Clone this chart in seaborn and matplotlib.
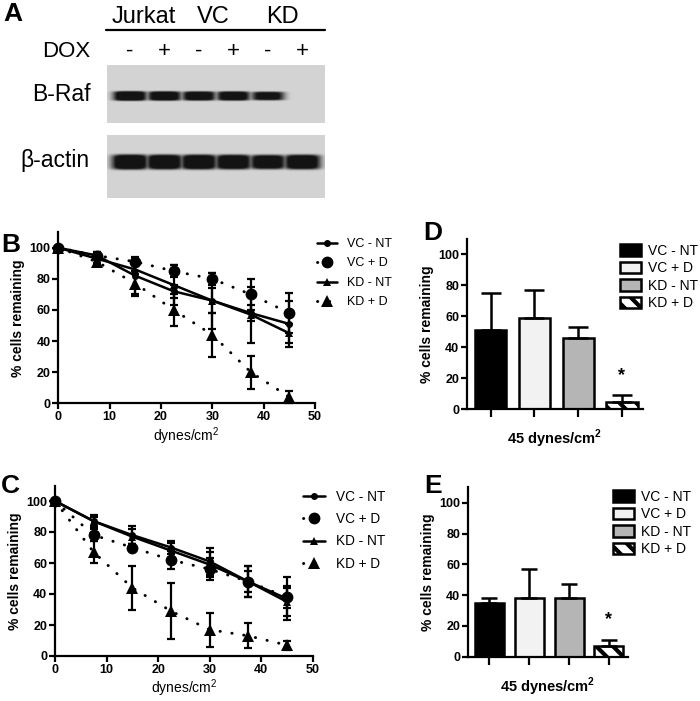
import numpy as np
import matplotlib
matplotlib.use('Agg')
import matplotlib.pyplot as plt
import seaborn as sns

# ---------------- data ----------------
dox_signs = ['-', '+', '-', '+', '-', '+']
groups = ['Jurkat', 'VC', 'KD']
braf_band = [1.0, 0.95, 0.92, 0.92, 0.80, 0.0]
actin_band = [1.0, 0.97, 0.97, 0.95, 0.90, 0.95]

dynes = [0, 7.5, 15, 22.5, 30, 37.5, 45]
series = ['VC - NT', 'VC + D', 'KD - NT', 'KD + D']

# panel B
b_vc_nt = [100, 95, 82, 72, 66, 58, 51]
b_vc_nt_err = [0, 2, 12, 4, 8, 5, 15]
b_vc_d = [100, 95, 91, 85, 80, 70, 58]
b_vc_d_err = [0, 2, 2, 4, 4, 10, 13]
b_kd_nt = [100, 93, 86, 76, 66, 57, 45]
b_kd_nt_err = [0, 3, 3, 13, 18, 18, 6]
b_kd_d = [100, 91, 77, 60, 44, 20, 4]
b_kd_d_err = [0, 3, 8, 10, 14, 10.5, 4]

# panel C
c_vc_nt = [100, 87, 78, 70, 61, 48, 37]
c_vc_nt_err = [0, 4, 6, 4, 9, 10, 14]
c_vc_d = [100, 78, 70, 62, 56, 48, 38]
c_vc_d_err = [0, 4, 2, 6, 7, 7, 7]
c_kd_nt = [100, 87, 77, 68, 59, 48, 35]
c_kd_nt_err = [0, 3, 5, 5, 8, 10, 9]
c_kd_d = [100, 67, 44, 29, 17, 13, 7]
c_kd_d_err = [0, 7, 14, 18, 11, 8, 3]

# panel D / E (45 dynes/cm2)
d_vals = [51, 59, 46, 5]
d_err = [24, 18, 7, 4]
e_vals = [35, 38, 38, 7]
e_err = [3, 19, 9, 4]
bar_colors = ['#000000', '#f2f2f2', '#b5b5b5', '#ffffff']

# ---------------- style ----------------
sns.set_theme(style='ticks', rc={
    'axes.edgecolor': 'black', 'axes.linewidth': 1.6,
    'xtick.color': 'black', 'ytick.color': 'black',
    'text.color': 'black', 'axes.labelcolor': 'black',
    'hatch.linewidth': 3.0,
})
plt.rcParams['font.family'] = ['Liberation Sans', 'DejaVu Sans']
plt.rcParams['mathtext.fontset'] = 'custom'
plt.rcParams['mathtext.rm'] = 'Liberation Sans'
plt.rcParams['mathtext.bf'] = 'Liberation Sans:bold'

W, H = 700, 701
fig = plt.figure(figsize=(W / 100, H / 100), dpi=100)


def px_axes(x0, y0, x1, y1):
    return fig.add_axes([x0 / W, 1 - y1 / H, (x1 - x0) / W, (y1 - y0) / H])


def fig_text(x, y, s, **kw):
    fig.text(x / W, 1 - y / H, s, **kw)


# ---------------- panel A : western blot ----------------
axA = px_axes(0, 0, 350, 210)
lane_x = 130 + 34.5 * np.arange(6)


def blot(intensity, cy, half_w, half_h, y0, y1, x0=107, x1=325, bg=0.83):
    xs = np.linspace(x0, x1, (x1 - x0) * 3)
    ys = np.linspace(y0, y1, (y1 - y0) * 3)
    X, Y = np.meshgrid(xs, ys)
    dark = np.zeros_like(X)
    for c, k in zip(lane_x, intensity):
        hh = half_h * (0.55 + 0.45 * k)
        band = k * np.exp(-((X - c) / half_w) ** 4) * np.exp(-((Y - cy) / hh) ** 6)
        dark = np.maximum(dark, band)
    img = bg - (bg - 0.08) * np.clip(dark * 1.5, 0, 1)
    axA.imshow(img, cmap='gray', vmin=0, vmax=1, extent=(x0, x1, y1, y0),
               aspect='auto', interpolation='bilinear')


blot(braf_band, 96, 16.5, 4.8, 65, 123)
blot(actin_band, 162, 18, 7.5, 135, 198)
axA.set_xlim(0, 350)
axA.set_ylim(210, 0)
axA.axis('off')

for i, g in enumerate(groups):
    axA.text(lane_x[2 * i:2 * i + 2].mean() - 3, 23, g, ha='center', va='baseline', fontsize=17)
axA.plot([106, 325], [30, 30], color='black', lw=1.6)
axA.text(90, 57, 'DOX', ha='right', va='baseline', fontsize=16)
for x, s in zip(lane_x, dox_signs):
    axA.text(x, 57, s, ha='center', va='baseline', fontsize=16)
axA.text(91, 101, 'B-Raf', ha='right', va='baseline', fontsize=16.5)
axA.text(90, 167, 'β-actin', ha='right', va='baseline', fontsize=16.5)


# ---------------- line panels ----------------
line_styles = [
    dict(marker='o', markersize=5, linestyle='-', linewidth=1.8),
    dict(marker='o', markersize=8.5, linestyle=(0, (0.1, 4)), linewidth=2.1, dash_capstyle='round'),
    dict(marker='^', markersize=5.5, linestyle='-', linewidth=1.8),
    dict(marker='^', markersize=8, linestyle=(0, (0.1, 4)), linewidth=2.1, dash_capstyle='round'),
]


def style_axis(ax, labelsize=9):
    sns.despine(ax=ax)
    ax.tick_params(direction='out', length=4, width=1.6, labelsize=labelsize, pad=1.5)
    for lab in ax.get_xticklabels() + ax.get_yticklabels():
        lab.set_fontweight('bold')


def line_panel(ax, data, leg_xy, leg_size):
    for name, (vals, errs), st in zip(series, data, line_styles):
        sns.lineplot(x=dynes, y=vals, ax=ax, color='black', errorbar=None, label=name,
                     clip_on=False, markeredgewidth=0, zorder=3, **st)
        ax.errorbar(dynes[1:], vals[1:], yerr=errs[1:], fmt='none', ecolor='black',
                    elinewidth=1.6, capsize=3.2, capthick=1.6, clip_on=False, zorder=2)
    ax.set_xlim(0, 50)
    ax.set_ylim(0, 110)
    ax.set_xticks(range(0, 51, 10))
    ax.set_yticks(range(0, 101, 20))
    style_axis(ax)
    ax.set_xlabel('dynes/cm$^{2}$', fontsize=10, labelpad=1.5)
    ax.set_ylabel('% cells remaining', fontsize=10, fontweight='bold', labelpad=3)
    ax.legend(loc='upper left', bbox_to_anchor=(leg_xy[0] / W, 1 - leg_xy[1] / H),
              bbox_transform=fig.transFigure, frameon=False, fontsize=leg_size,
              handlelength=1.6, handletextpad=0.8, labelspacing=0.6,
              borderpad=0, borderaxespad=0)


axB = px_axes(58.3, 232.2, 315, 403.3)
line_panel(axB, [(b_vc_nt, b_vc_nt_err), (b_vc_d, b_vc_d_err),
                 (b_kd_nt, b_kd_nt_err), (b_kd_d, b_kd_d_err)], (317, 238), 9)

axC = px_axes(55, 485.5, 312.7, 656)
line_panel(axC, [(c_vc_nt, c_vc_nt_err), (c_vc_d, c_vc_d_err),
                 (c_kd_nt, c_kd_nt_err), (c_kd_d, c_kd_d_err)], (303, 490), 9.8)


# ---------------- bar panels ----------------
def bar_panel(ax, vals, errs, star_y, leg_xy, width, capsize):
    sns.barplot(x=series, y=vals, hue=series, palette=bar_colors, legend=False, ax=ax,
                width=width, edgecolor='black', linewidth=1.8, saturation=1)
    ax.patches[3].set_hatch('\\\\')
    ax.errorbar(range(4), vals, yerr=[np.zeros(4), errs], fmt='none', ecolor='black',
                elinewidth=1.8, capsize=capsize, capthick=1.8, zorder=3)
    ax.text(3, star_y, '*', ha='center', va='center', fontsize=13, fontweight='bold')
    ax.set_xlim(-0.54, 3.48)
    ax.set_ylim(0, 110)
    ax.set_yticks(range(0, 101, 20))
    ax.set_xticks(range(4))
    ax.set_xticklabels([])
    style_axis(ax)
    ax.tick_params(axis='x', length=6)
    ax.set_xlabel('45 dynes/cm$^{\\mathbf{2}}$', fontsize=10.5, fontweight='bold', labelpad=6)
    ax.set_ylabel('% cells remaining', fontsize=10, fontweight='bold', labelpad=3)
    ax.legend(handles=ax.patches[:4], labels=series, loc='upper left',
              bbox_to_anchor=(leg_xy[0] / W, 1 - leg_xy[1] / H),
              bbox_transform=fig.transFigure, frameon=False, fontsize=10,
              handlelength=1.5, handleheight=0.9, handletextpad=0.5,
              labelspacing=0.25, borderpad=0, borderaxespad=0)


axD = px_axes(467, 238.8, 643, 409.3)
bar_panel(axD, d_vals, d_err, 22, (620, 244), 0.71, 7)

axE = px_axes(468, 487.3, 628, 656.7)
bar_panel(axE, e_vals, e_err, 24, (613, 490), 0.73, 6)

# ---------------- panel letters ----------------
for s, x, y in [('A', 3, 21), ('B', 1, 252), ('C', 1, 493), ('D', 423, 240), ('E', 424, 493)]:
    fig_text(x, y, s, fontsize=19, fontweight='bold', va='baseline', ha='left')

fig.savefig('out.png', dpi=100)
